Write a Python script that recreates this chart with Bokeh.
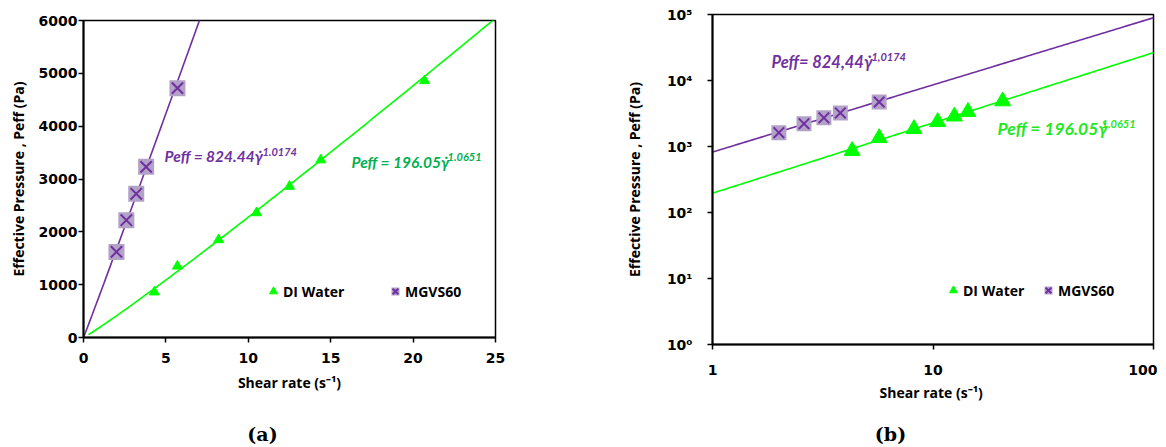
import numpy as np
from bokeh.plotting import figure
from bokeh.layouts import row
from bokeh.models import FixedTicker, Label, Legend, LegendItem, Range1d
from bokeh.embed import file_html
from bokeh.resources import INLINE

# ---- data ----
di_rate = [4.3, 5.7, 8.2, 10.5, 12.5, 14.4, 20.7]
di_peff = [860, 1350, 1850, 2360, 2860, 3360, 4860]
mg_rate = [2.0, 2.6, 3.2, 3.8, 5.7]
mg_peff = [1620, 2220, 2720, 3230, 4720]

# power-law trendlines shown on the chart
di_k, di_n = 196.05, 1.0651
mg_k, mg_n = 824.44, 1.0174

lin_xticks = [0, 5, 10, 15, 20, 25]
lin_yticks = [0, 1000, 2000, 3000, 4000, 5000, 6000]
log_xticks = [1, 10, 100]
log_yticks = [1, 10, 100, 1000, 10000, 100000]
log_ylabels = ["10\u2070", "10\u00b9", "10\u00b2", "10\u00b3", "10\u2074", "10\u2075"]

PURPLE = "#7030A0"
LILAC = "#B3A2C7"
GREEN = "#00FF00"
TICK_FONT = "DejaVu Sans"
LAB_FONT = "Open Sans"
EQ_FONT = "Lato"
H = 444


def style(p, label_standoff_y, tick_standoff_y, tick_standoff_x, label_standoff_x):
    p.xgrid.visible = False
    p.ygrid.visible = False
    p.outline_line_color = "black"
    p.outline_line_width = 1.5
    p.background_fill_color = "white"
    p.border_fill_color = "white"
    for ax in (p.xaxis[0], p.yaxis[0]):
        ax.axis_line_width = 2
        ax.axis_line_color = "black"
        ax.major_tick_line_width = 1.5
        ax.major_tick_in = 0
        ax.major_tick_out = 5
        ax.minor_tick_in = 0
        ax.minor_tick_out = 0
        ax.major_label_text_font = TICK_FONT
        ax.major_label_text_font_style = "bold"
        ax.major_label_text_font_size = "14px"
        ax.major_label_text_color = "black"
        ax.axis_label_text_font = LAB_FONT
        ax.axis_label_text_font_style = "bold"
        ax.axis_label_text_font_size = "14px"
        ax.axis_label_text_color = "black"
    p.yaxis[0].major_label_standoff = tick_standoff_y
    p.xaxis[0].major_label_standoff = tick_standoff_x
    p.yaxis[0].axis_label_standoff = label_standoff_y
    p.xaxis[0].axis_label_standoff = label_standoff_x


def eq(p, x, y, xe, ye, main, expo, color, size):
    p.add_layout(Label(x=x, y=y, text=main, text_color=color, text_font=EQ_FONT,
                       text_font_style="bold italic", text_font_size=size,
                       text_baseline="middle"))
    p.add_layout(Label(x=xe, y=ye, text=expo, text_color=color, text_font=EQ_FONT,
                       text_font_style="bold italic", text_font_size="11px",
                       text_baseline="middle"))


def legend(p, r_di, r_mg, loc, lw):
    lg = Legend(items=[LegendItem(label="DI Water", renderers=[r_di]),
                       LegendItem(label="MGVS60", renderers=r_mg)],
                orientation="horizontal", location=loc, padding=0, margin=0,
                spacing=5, label_standoff=0, glyph_width=20, glyph_height=20,
                label_width=lw, label_height=20,
                background_fill_alpha=0, border_line_alpha=0,
                label_text_font=LAB_FONT, label_text_font_style="bold",
                label_text_font_size="14px", label_text_color="black")
    p.add_layout(lg)


def panel_tag(p, text, cx, cy):
    p.add_layout(Label(x=cx, y=cy, x_units="canvas", y_units="canvas", text=text,
                       text_font="DejaVu Serif", text_font_size="19px",
                       text_font_style="bold",
                       text_align="center", text_baseline="middle",
                       text_color="black"), "below")


# ---------------- (a) linear ----------------
p1 = figure(width=575, height=H, output_backend="svg", toolbar_location=None,
            x_range=Range1d(0, 25), y_range=Range1d(0, 6000),
            min_border_left=83, min_border_right=80, min_border_top=20,
            min_border_bottom=H - 20 - 317)
p1.frame_align = False
style(p1, 8, 1, 10, 7)
p1.xaxis.ticker = FixedTicker(ticks=lin_xticks)
p1.yaxis.ticker = FixedTicker(ticks=lin_yticks)
p1.xaxis.axis_label = "Shear rate (s\u207b\u00b9)"
p1.yaxis.axis_label = "Effective Pressure , Peff (Pa)"

xa_mg = np.linspace(0, 7.3, 60)
xa_di = np.linspace(0.3, 25, 120)
p1.line(xa_mg, mg_k * xa_mg ** mg_n, line_color=PURPLE, line_width=1.6)
p1.line(xa_di, di_k * xa_di ** di_n, line_color=GREEN, line_width=1.6)
a_sq = p1.scatter(mg_rate, mg_peff, marker="square", size=16, fill_color=LILAC,
                  line_color=None)
a_x = p1.scatter(mg_rate, mg_peff, marker="x", size=16, line_color=PURPLE, line_width=2)
a_tri = p1.scatter(di_rate, di_peff, marker="triangle", size=10, fill_color=GREEN,
                   line_color=GREEN)
legend(p1, a_tri, [a_sq, a_x], (180, 36), 97)

eq(p1, 4.92, 3430, 10.86, 3510, "Peff = 824.44\u03b3\u0307", "1.0174", PURPLE, "15.5px")
eq(p1, 16.26, 3330, 22.09, 3420, "Peff = 196.05\u03b3\u0307", "1.0651", "#00B050", "15.5px")
panel_tag(p1, "(a)", 262, 433)

# ---------------- (b) log-log ----------------
p2 = figure(width=582, height=H, output_backend="svg", toolbar_location=None,
            x_axis_type="log", y_axis_type="log",
            x_range=Range1d(1, 100), y_range=Range1d(1, 100000),
            min_border_left=137, min_border_right=4, min_border_top=14,
            min_border_bottom=H - 14 - 330)
p2.frame_align = False
style(p2, 20, 15, 15, 5)
p2.xaxis.ticker = FixedTicker(ticks=log_xticks)
p2.yaxis.ticker = FixedTicker(ticks=log_yticks)
p2.xaxis.major_label_overrides = {1: "1", 10: "10", 100: "100"}
p2.yaxis.major_label_overrides = {float(t): s for t, s in zip(log_yticks, log_ylabels)}
p2.xaxis.axis_label = "Shear rate  (s\u207b\u00b9)"
p2.yaxis.axis_label = "Effective Pressure , Peff (Pa)"

xb = np.logspace(0, 2, 120)
p2.line(xb, mg_k * xb ** mg_n, line_color=PURPLE, line_width=1.6)
p2.line(xb, di_k * xb ** di_n, line_color=GREEN, line_width=1.6)
b_sq = p2.scatter(mg_rate, mg_peff, marker="square", size=15, fill_color=LILAC,
                  line_color=None)
b_x = p2.scatter(mg_rate, mg_peff, marker="x", size=15, line_color=PURPLE, line_width=2)
b_tri = p2.scatter(di_rate, di_peff, marker="triangle", size=16, fill_color=GREEN,
                   line_color=GREEN)
legend(p2, b_tri, [b_sq, b_x], (231, 44), 70)

eq(p2, 1.85, 19400, 5.26, 23100, "Peff= 824,44\u03b3\u0307", "1,0174", PURPLE, "16.5px")
eq(p2, 19.6, 1875, 58.1, 2230, "Peff = 196.05\u03b3\u0307", "1.0651", "#22E822", "17.5px")
panel_tag(p2, "(b)", 315, 433)

layout = row(p1, p2)
open("out.html", "w").write(file_html(layout, INLINE))
